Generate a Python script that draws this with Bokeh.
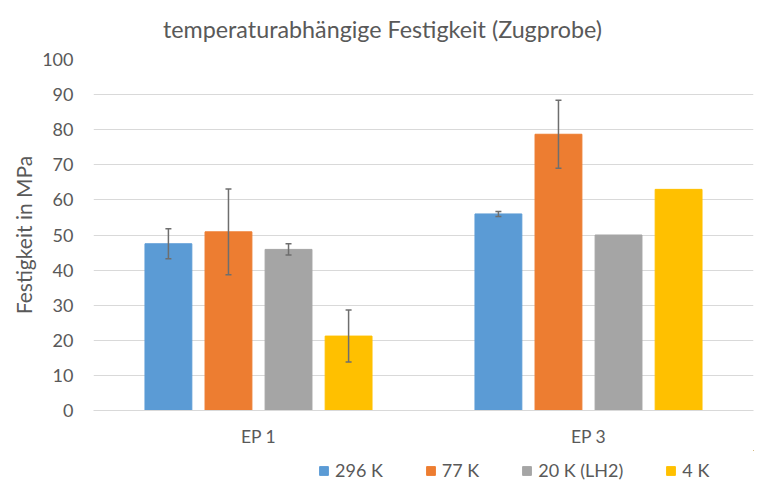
from bokeh.plotting import figure
from bokeh.layouts import column
from bokeh.models import ColumnDataSource, FactorRange, Whisker, TeeHead, Legend, LegendItem, SingleIntervalTicker
from bokeh.core.properties import value
from bokeh.transform import dodge
from bokeh.embed import file_html
from bokeh.resources import INLINE

title_text = "temperaturabhängige Festigkeit (Zugprobe)"
categories = ["EP 1", "EP 3"]
series = ["296 K", "77 K", "20 K (LH2)", "4 K"]
colors = ["#5B9BD5", "#ED7D31", "#A5A5A5", "#FFC000"]
v296 = [47.5, 56.0]
v77 = [50.9, 78.7]
v20 = [45.9, 50.0]
v4 = [21.2, 63.0]
e296 = [4.3, 0.7]
e77 = [12.2, 9.7]
e20 = [1.6, 0.0]
e4 = [7.4, 0.0]
values = [v296, v77, v20, v4]
errors = [e296, e77, e20, e4]
offsets = [-0.273, -0.091, 0.091, 0.273]

FONT = "Lato"
TXT = "#595959"

# title strip
TH = 46
tf = figure(width=758, height=TH, output_backend="svg", toolbar_location=None,
            x_range=(0, 660), y_range=(0, TH), min_border=0)
tf.axis.visible = False
tf.grid.visible = False
tf.outline_line_color = None
tf.text(x=[289], y=[TH - 28], text=[title_text], text_align="center", text_baseline="middle",
        text_font=value(FONT), text_font_size="23.3px", text_color=TXT)

p = figure(x_range=FactorRange(*categories, range_padding=0), y_range=(0, 100),
           width=758, height=410 - TH + 40, output_backend="svg", toolbar_location=None, title=None,
           min_border_left=93, min_border_right=5, min_border_top=59 - TH, min_border_bottom=40)
p.outline_line_color = None
p.border_fill_color = "white"

for name, col, vals, errs, off in zip(series, colors, values, errors, offsets):
    src = ColumnDataSource(dict(cat=categories, v=vals))
    p.vbar(x=dodge("cat", off, range=p.x_range), top="v", width=0.142, source=src,
           fill_color=col, line_color=col)
    esrc = ColumnDataSource(dict(cat=[c for c, e in zip(categories, errs) if e > 0],
                                 up=[a + b for a, b in zip(vals, errs) if b > 0],
                                 lo=[a - b for a, b in zip(vals, errs) if b > 0]))
    w = Whisker(base=dodge("cat", off, range=p.x_range), upper="up", lower="lo", source=esrc,
                line_color="#6E6E6E", line_width=1.5, level="overlay",
                upper_head=TeeHead(size=6, line_color="#6E6E6E", line_width=1.5),
                lower_head=TeeHead(size=6, line_color="#6E6E6E", line_width=1.5))
    p.add_layout(w)

p.yaxis.ticker = SingleIntervalTicker(interval=10)
p.ygrid.grid_line_color = "#D9D9D9"
p.ygrid.grid_line_width = 1
p.xgrid.grid_line_color = None
p.yaxis.axis_line_color = None
p.yaxis.major_tick_line_color = None
p.yaxis.minor_tick_line_color = None
p.xaxis.axis_line_color = "#D9D9D9"
p.xaxis.major_tick_line_color = None
p.xaxis.minor_tick_line_color = None
for ax in (p.xaxis, p.yaxis):
    ax.major_tick_out = 0
    ax.major_tick_in = 0
    ax.minor_tick_out = 0
    ax.major_label_text_font = FONT
    ax.major_label_text_font_size = "18px"
    ax.major_label_text_color = TXT
    ax.axis_label_text_font = FONT
    ax.axis_label_text_font_size = "21px"
    ax.axis_label_text_font_style = "normal"
    ax.axis_label_text_color = TXT
p.xaxis.major_label_text_font_size = "17.5px"
p.yaxis.axis_label = "Festigkeit in MPa"
p.yaxis.axis_label_standoff = 3
p.yaxis.major_label_standoff = 20
p.xaxis.major_label_standoff = 15

# legend strip below the chart
lf = figure(width=758, height=39, output_backend="svg", toolbar_location=None,
            x_range=(0, 1), y_range=(0, 1), min_border=0)
lf.axis.visible = False
lf.grid.visible = False
lf.outline_line_color = None
items = []
for name, col in zip(series, colors):
    r = lf.vbar(x=[5], top=[5], bottom=[4], width=0.1, fill_color=col, line_color=col)
    items.append(LegendItem(label=name, renderers=[r]))
legend = Legend(items=items, orientation="horizontal", location=(225, 8),
                label_text_font=FONT, label_text_font_size="18px", label_text_color=TXT,
                glyph_width=11, glyph_height=11, label_standoff=6, spacing=42,
                padding=0, margin=0, border_line_color=None, background_fill_alpha=0)
lf.add_layout(legend, "center")

open("out.html", "w").write(file_html(column(tf, p, lf, spacing=0), INLINE))
